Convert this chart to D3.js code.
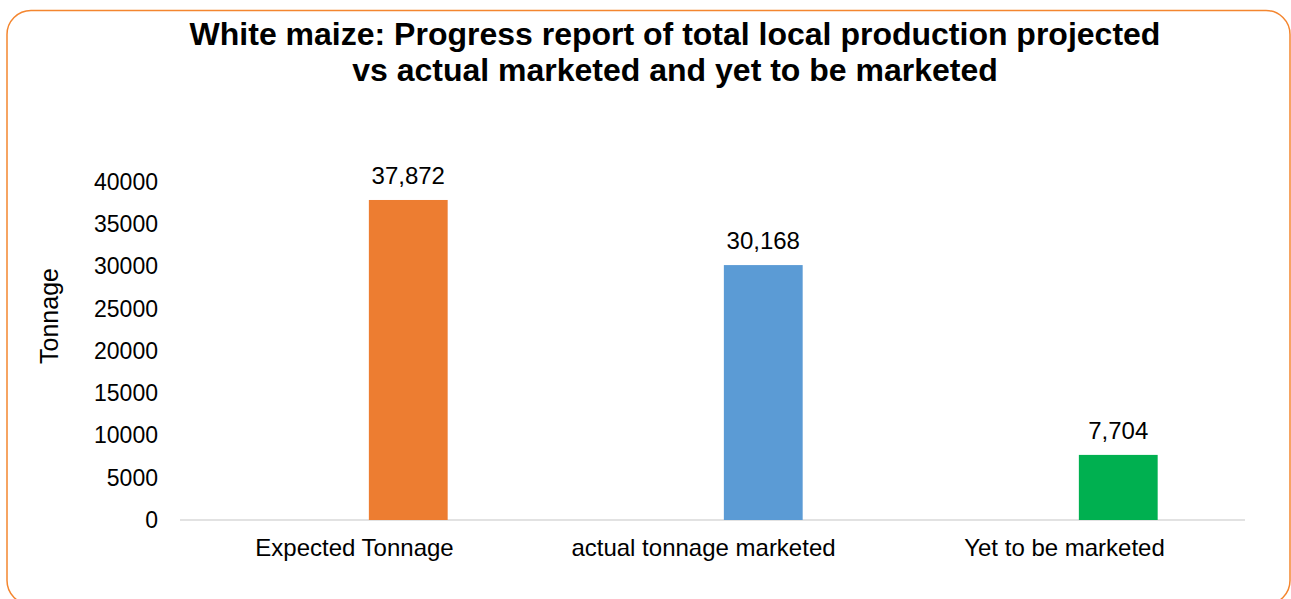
<!DOCTYPE html>
<html>
  <head>
    <meta charset="utf-8" />
    <title>White maize progress report</title>
    <script src="https://d3js.org/d3.v7.min.js"></script>
    <style>
      body {
        margin: 0;
        background: #fff;
      }
      svg {
        display: block;
        font-family: "Liberation Sans", Arial, sans-serif;
      }
    </style>
  </head>
  <body>
    <svg id="chart"></svg>
    <script>
      const categories = ["Expected Tonnage", "actual tonnage marketed", "Yet to be marketed"];
      const values = [37872, 30168, 7704];
      const colors = ["#ED7D31", "#5B9BD5", "#00B050"];
      const yTicks = [0, 5000, 10000, 15000, 20000, 25000, 30000, 35000, 40000];
      const titleLines = [
        "White maize: Progress report of total local production projected",
        "vs actual marketed and yet to be marketed"
      ];

      const width = 1291;
      const height = 599;
      const margin = { top: 182, right: 46, bottom: 79, left: 180 };

      const svg = d3.select("#chart").attr("width", width).attr("height", height);

      // rounded orange frame, bottom edge runs off the picture
      svg
        .append("rect")
        .attr("x", 7)
        .attr("y", 10.5)
        .attr("width", 1283)
        .attr("height", 594)
        .attr("rx", 24)
        .attr("fill", "none")
        .attr("stroke", "#F4862F")
        .attr("stroke-width", 1.5);

      svg
        .append("text")
        .attr("x", 675)
        .attr("y", 45)
        .attr("text-anchor", "middle")
        .attr("font-weight", "bold")
        .attr("font-size", 32)
        .selectAll("tspan")
        .data(titleLines)
        .join("tspan")
        .attr("x", 675)
        .attr("dy", (d, i) => (i === 0 ? 0 : 36))
        .text(d => d);

      const x = d3
        .scaleBand()
        .domain(categories)
        .range([margin.left, width - margin.right])
        .padding(0);

      // bars sit right of the category centre, like the excel original
      const barOffset = 0.532;
      const barWidth = 0.222;

      const y = d3
        .scaleLinear()
        .domain([0, 40000])
        .range([height - margin.bottom, margin.top]);

      const yAxis = d3
        .axisLeft(y)
        .tickValues(yTicks)
        .tickSize(0)
        .tickPadding(22)
        .tickFormat(d3.format("d"));

      const gy = svg.append("g").attr("transform", `translate(${margin.left},0)`).call(yAxis);
      gy.select(".domain").remove();
      gy.selectAll("text").attr("font-size", 23).attr("fill", "#000").attr("font-family", null);

      // baseline
      svg
        .append("line")
        .attr("x1", margin.left)
        .attr("x2", width - margin.right)
        .attr("y1", y(0))
        .attr("y2", y(0))
        .attr("stroke", "#D9D9D9")
        .attr("stroke-width", 1.5);

      const xAxis = d3.axisBottom(x).tickSize(0).tickPadding(19);
      const gx = svg.append("g").attr("transform", `translate(-3,${y(0)})`).call(xAxis);
      gx.select(".domain").remove();
      gx.selectAll("text").attr("font-size", 24).attr("fill", "#000").attr("font-family", null);
      gx.selectAll(".tick")
        .filter(d => d === categories[1])
        .select("text")
        .attr("dx", -6);

      svg
        .selectAll("rect.bar")
        .data(values)
        .join("rect")
        .attr("class", "bar")
        .attr("x", (d, i) => x(categories[i]) + x.step() * barOffset)
        .attr("y", d => y(d))
        .attr("width", x.step() * barWidth)
        .attr("height", d => y(0) - y(d))
        .attr("fill", (d, i) => colors[i]);

      svg
        .selectAll("text.val")
        .data(values)
        .join("text")
        .attr("class", "val")
        .attr("x", (d, i) => x(categories[i]) + x.step() * (barOffset + barWidth / 2))
        .attr("y", d => y(d) - 16)
        .attr("text-anchor", "middle")
        .attr("font-size", 24)
        .text(d => d3.format(",")(d));

      svg
        .append("text")
        .attr("transform", "translate(58,316) rotate(-90)")
        .attr("text-anchor", "middle")
        .attr("font-size", 25)
        .text("Tonnage");
    </script>
  </body>
</html>
